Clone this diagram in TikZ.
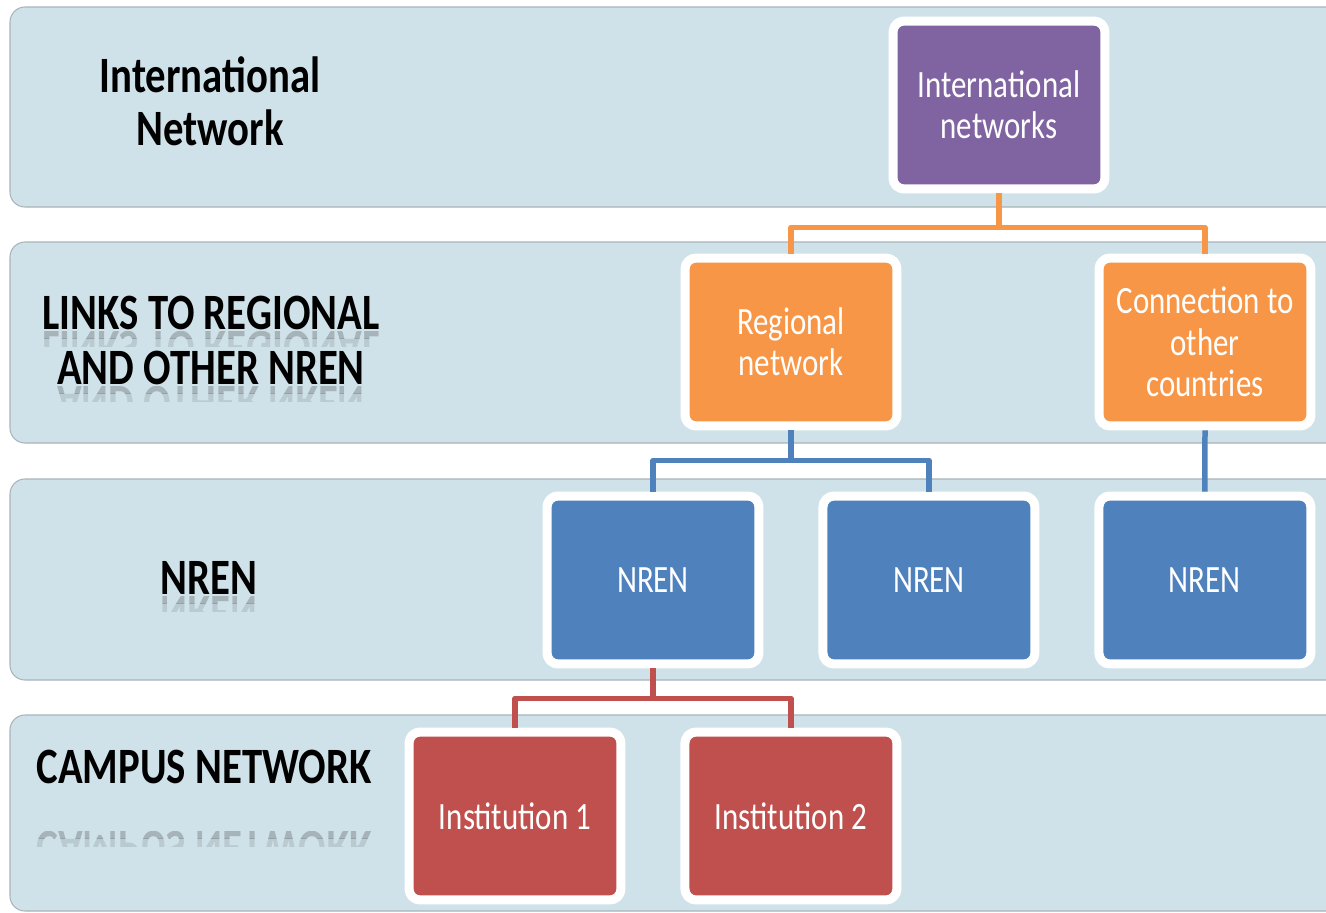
\documentclass[tikz,border=0pt]{standalone}
\usepackage{fontspec}
\setmainfont{Carlito}[FakeStretch=0.8]
\usetikzlibrary{shadows}

\definecolor{bandblue}{HTML}{D0E2E9}
\definecolor{bandline}{HTML}{A9B4BA}
\definecolor{netpurple}{HTML}{8064A2}
\definecolor{netorange}{HTML}{F79646}
\definecolor{netblue}{HTML}{4F81BD}
\definecolor{netred}{HTML}{C0504D}

\begin{document}
\begin{tikzpicture}[
    x = 0.02cm, % one unit is one pixel of the slide
    y = -0.02cm, % y runs downwards
    node distance = 5.52cm, % distance between sibling boxes
    line join = round, % round elbows
    semithick
  ]

  \tikzstyle{band}=[fill=bandblue, draw=bandline, line width=0.6pt, rounded corners=0.3cm]
  \tikzstyle{level}=[font=\fontsize{29}{30}\selectfont\bfseries, text=black, anchor=base]
  \tikzstyle{mirror}=[level, yscale=-1, transform shape]
  \tikzstyle{box}=[rectangle, rounded corners=0.22cm, draw=white, line width=0.18cm,
    minimum width=4.24cm, minimum height=3.36cm, text=white, align=center,
    font=\fontsize{22}{23.5}\selectfont,
    drop shadow={opacity=0.3, shadow xshift=0.04cm, shadow yshift=-0.06cm}]
  \tikzstyle{link}=[line width=0.11cm]

  \fill[white] (0,0) rectangle (1326,913);
  \useasboundingbox (0,0) rectangle (1326,913);
  \clip (0,0) rectangle (1326,913);

  % the four levels
  \draw[band] (10,7) rectangle (1350,207);
  \draw[band] (10,242) rectangle (1350,443);
  \draw[band] (10,479) rectangle (1350,680);
  \draw[band] (10,715) rectangle (1350,911);

  \node[level] (inl1) at (210,92) {International};
  \node[level] (inl2) at (210,145) {Network};
  \node[level] (lnk1) at (211,329) {LINKS TO REGIONAL};
  \node[level] (lnk2) at (211,384) {AND OTHER NREN};
  \node[level] (nrl) at (209,594) {NREN};
  \node[level] (cam) at (204,783) {CAMPUS NETWORK};

  % faint reflections under the level names, fading downwards
  \foreach \x/\y/\t in {211/329/LINKS TO REGIONAL, 211/384/AND OTHER NREN,
                        209/594/NREN, 204/829/CAMPUS NETWORK} {
    \begin{scope}
      \clip (\x-220,\y+2) rectangle (\x+220,\y+9);
      \node[mirror, opacity=0.2] at (\x,\y+2) {\t};
    \end{scope}
    \begin{scope}
      \clip (\x-220,\y+9) rectangle (\x+220,\y+17);
      \node[mirror, opacity=0.1] at (\x,\y+2) {\t};
    \end{scope}
  }

  % the hierarchy
  \node[box, fill=netpurple] (intl) at (999,105) {International\\networks};
  \node[box, fill=netorange] (reg) at (791,342) {Regional\\network};
  \node[box, fill=netorange] (conn) at (1205,342) {Connection to\\other\\countries};
  \node[box, fill=netblue] (nren1) at (653,580) {NREN};
  \node[box, fill=netblue] (nren2) [right of=nren1] {NREN};
  \node[box, fill=netblue] (nren3) [right of=nren2] {NREN};
  \node[box, fill=netred] (inst1) at (515,816) {Institution 1};
  \node[box, fill=netred] (inst2) [right of=inst1] {Institution 2};

  \draw[link, netorange] (intl.south) -- ++(0,34) -| (reg.north);
  \draw[link, netorange] (intl.south) -- ++(0,34) -| (conn.north);
  \draw[link, netblue] (reg.south) -- ++(0,30) -| (nren1.north);
  \draw[link, netblue] (reg.south) -- ++(0,30) -| (nren2.north);
  \draw[link, netblue] (conn.south) -- (nren3.north);
  \draw[link, netred] (nren1.south) -- ++(0,30) -| (inst1.north);
  \draw[link, netred] (nren1.south) -- ++(0,30) -| (inst2.north);

\end{tikzpicture}
\end{document}
